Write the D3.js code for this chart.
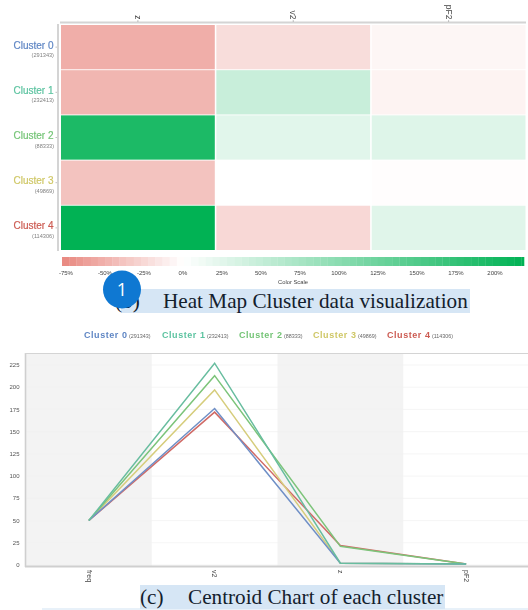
<!DOCTYPE html>
<html><head><meta charset="utf-8">
<script src="https://cdnjs.cloudflare.com/ajax/libs/d3/7.8.5/d3.min.js"></script>
<style>html,body{margin:0;padding:0;background:#fff}svg{display:block}</style>
</head><body><svg id="c" width="528" height="610"></svg>
<script>
const clusters = ["Cluster 0","Cluster 1","Cluster 2","Cluster 3","Cluster 4"];
const counts = [291343,232413,88333,49869,114306];
const clusterColors = ["#5f86c4","#5cc3a0","#74c476","#cfc766","#cc5b52"];
const heatFeatures = ["z","v2","pF2"];
const heatZ = [-52,-47,195,-39,218];
const heatV2 = [-22,47,26,0,-25];
const heatPF2 = [-6,-8,28,-1,27];
const scaleTicks = [-75,-50,-25,0,25,50,75,100,125,150,175,200];
const lineFeatures = ["freq","v2","z","pF2"];
const lineC0 = [50,176,2,1];
const lineC1 = [50,227,2,1];
const lineC2 = [50,213,21,1];
const lineC3 = [50,197,2,1];
const lineC4 = [50,172,22,1];
const yTicks = [0,25,50,75,100,125,150,175,200,225];

const svg = d3.select("#c");
const sans = "'Liberation Sans',Arial,sans-serif";
const soft = svg.append("g").style("filter","blur(0.45px)");

// ---- Heat map
const hx = d3.scaleBand().domain(heatFeatures).range([61,525.5]).paddingInner(0.01);
const hy = d3.scaleBand().domain(clusters).range([25,250]).paddingInner(0.02);
const color = d3.scaleLinear().domain([-77.5,0,218.6]).range(["#e8877f","#ffffff","#00b254"]);
const heatCols = [heatZ,heatV2,heatPF2];
heatFeatures.forEach((f,j)=>{
  soft.selectAll(null).data(heatCols[j]).join("rect")
    .attr("x",hx(f)).attr("width",hx.bandwidth())
    .attr("y",(d,i)=>hy(clusters[i])).attr("height",hy.bandwidth())
    .attr("fill",d=>color(d));
});
soft.append("path").attr("d",`M58,24V251`).attr("stroke","#d4d4d4").attr("stroke-width",2).attr("fill","none");
soft.append("path").attr("d",`M60,22.5H526`).attr("stroke","#d4d4d4").attr("stroke-width",2).attr("fill","none");
heatFeatures.forEach(f=>{
  const x=hx(f)+hx.bandwidth()/2;
  soft.append("line").attr("x1",x).attr("x2",x).attr("y1",20).attr("y2",22).attr("stroke","#999").attr("stroke-width",.6);
  soft.append("text").text(f).attr("transform",`translate(${x},19.5) rotate(90)`)
    .attr("text-anchor","end").attr("dy","0.33em").attr("font-family",sans).attr("font-size",8.5).attr("fill","#444");
});
clusters.forEach((c,i)=>{
  const cy=hy(c)+hy.bandwidth()/2;
  soft.append("line").attr("x1",55.5).attr("x2",57).attr("y1",cy).attr("y2",cy).attr("stroke","#999").attr("stroke-width",.6);
  soft.append("text").text(c).attr("x",53.5).attr("y",cy+1.5).attr("text-anchor","end")
    .attr("font-family",sans).attr("font-size",10).attr("fill",clusterColors[i])
    .attr("stroke",clusterColors[i]).attr("stroke-width",0.2);
  soft.append("text").text(`(${counts[i]})`).attr("x",54).attr("y",cy+10).attr("text-anchor","end")
    .attr("font-family",sans).attr("font-size",5.6).attr("fill","#808080");
});

// ---- Colour scale
const sx = d3.scaleLinear().domain([-77.5,218.6]).range([62,524]);
const stepVals = d3.range(-77.5,218.6,4.6);
soft.selectAll(null).data(stepVals).join("rect")
  .attr("x",d=>sx(d)).attr("width",d=>sx(Math.min(d+4.6,218.6))-sx(d)+.3)
  .attr("y",257).attr("height",9)
  .attr("fill",d=>color(d+2.3));
soft.selectAll(null).data(scaleTicks).join("text")
  .text(d=>d+"%").attr("x",d=>sx(d)).attr("y",274.5).attr("text-anchor","middle")
  .attr("font-family",sans).attr("font-size",6).attr("fill","#444");
soft.append("text").text("Color Scale").attr("x",293).attr("y",284).attr("text-anchor","middle")
  .attr("font-family",sans).attr("font-size",5.8).attr("fill","#444");

// ---- Legend
const legendStart = [84,162,239,313,387];
clusters.forEach((c,i)=>{
  const t=soft.append("text").attr("x",legendStart[i]).attr("y",338).attr("font-family",sans);
  t.append("tspan").text(c).attr("font-size",9).attr("font-weight","bold").attr("letter-spacing",0.55).attr("fill",clusterColors[i]);
  t.append("tspan").text(` (${counts[i]})`).attr("font-size",5.4).attr("fill","#666");
});

// ---- Line chart
const lx = d3.scaleBand().domain(lineFeatures).range([26,529]);
const ly = d3.scaleLinear().domain([0,225]).range([565,365]);
lineFeatures.forEach((f,i)=>{ if(i%2==0)
  soft.append("rect").attr("x",lx(f)).attr("width",lx.bandwidth()).attr("y",353).attr("height",213).attr("fill","#f3f3f3");
});
soft.selectAll(null).data(yTicks).join("line")
  .attr("x1",26).attr("x2",528).attr("y1",d=>ly(d)).attr("y2",d=>ly(d))
  .attr("stroke","#f0f0f0").attr("stroke-width",.7);
soft.append("path").attr("d","M25.5,353V567").attr("stroke","#cfcfcf").attr("stroke-width",1.6).attr("fill","none");
soft.append("path").attr("d","M25,353.5H528").attr("stroke","#d4d4d4").attr("stroke-width",1.2).attr("fill","none");
soft.append("path").attr("d","M25,566.5H528").attr("stroke","#cfcfcf").attr("stroke-width",2).attr("fill","none");
soft.selectAll(null).data(yTicks).join("text")
  .text(d=>d).attr("x",19.5).attr("y",d=>ly(d)).attr("dy","0.35em").attr("text-anchor","end")
  .attr("font-family",sans).attr("font-size",6).attr("fill","#555");
lineFeatures.forEach(f=>{
  const x=lx(f)+lx.bandwidth()/2;
  soft.append("text").text(f).attr("transform",`translate(${x},570) rotate(90)`)
    .attr("dy","0.33em").attr("font-family",sans).attr("font-size",7).attr("fill","#444");
});
const line = d3.line().x((d,i)=>lx(lineFeatures[i])+lx.bandwidth()/2).y(d=>ly(d));
const lineColors = ["#6f8fc6","#68bd9f","#7cc47a","#d6cd7c","#d06a66"];
[[lineC4,4],[lineC3,3],[lineC2,2],[lineC0,0],[lineC1,1]].forEach(([v,i])=>{
  soft.append("path").attr("d",line(v)).attr("fill","none").attr("stroke",lineColors[i]).attr("stroke-width",1.5).attr("stroke-linejoin","miter");
});

// ---- Captions
const serif = "'Liberation Serif','Times New Roman',serif";
svg.append("rect").attr("x",121).attr("y",289).attr("width",349).attr("height",24).attr("fill","#d6e6f5");
svg.append("text").text("(b)").attr("x",115).attr("y",308).attr("font-family",serif).attr("font-size",21.2).attr("fill","#13202c");
svg.append("text").text("Heat Map Cluster data visualization").attr("x",163).attr("y",308).attr("font-family",serif).attr("font-size",21.2).attr("fill","#13202c");
svg.append("circle").attr("cx",122).attr("cy",289.5).attr("r",19).attr("fill","#0f78d2");
svg.append("text").text("1").attr("x",122).attr("y",296).attr("text-anchor","middle").attr("font-family","'Open Sans',sans-serif").attr("font-size",18).attr("fill","#fff");

svg.append("rect").attr("x",42).attr("y",608).attr("width",486).attr("height",2).attr("fill","#e8f1f9");
svg.append("rect").attr("x",140).attr("y",585).attr("width",305).attr("height",24).attr("fill","#d6e6f5");
svg.append("text").text("(c)").attr("x",140).attr("y",604).attr("font-family",serif).attr("font-size",21.2).attr("fill","#13202c");
svg.append("text").text("Centroid Chart of each cluster").attr("x",188).attr("y",604).attr("font-family",serif).attr("font-size",21.2).attr("fill","#13202c");
</script></body></html>
